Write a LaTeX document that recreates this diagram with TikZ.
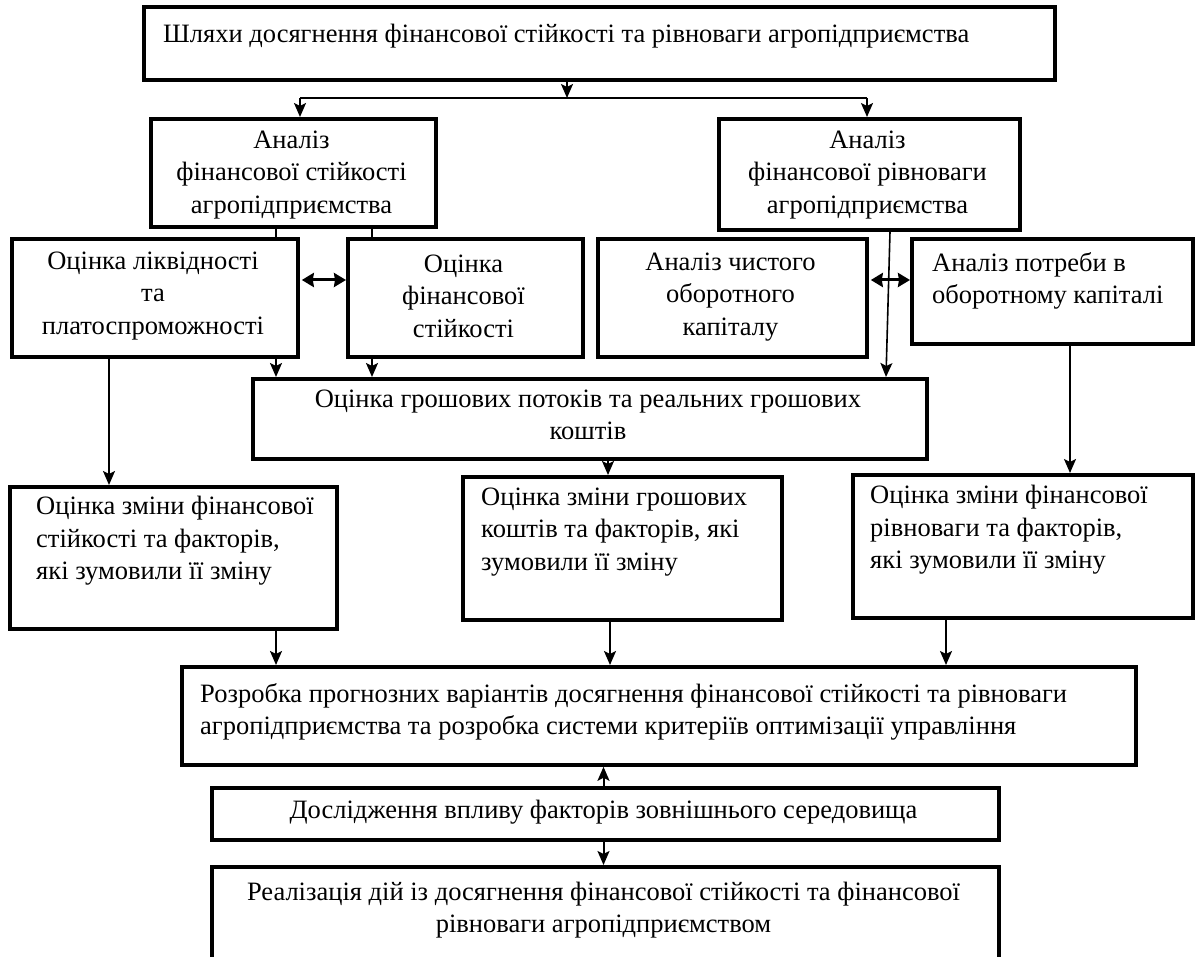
\documentclass[tikz,border=0pt]{standalone}
\usepackage{fontspec}
\setmainfont{Liberation Serif}
\usetikzlibrary{arrows.meta}
\newcommand{\mybox}[5]{\node[box, anchor=north west, minimum width={#4pt-#2pt}, minimum height={#5pt-#3pt}] (#1) at (#2,#3) {};}
\begin{document}
\begin{tikzpicture}[x=1pt,y=-1pt,
  box/.style={draw, line width=3.8pt, inner sep=0pt},
  txt/.style={inner sep=0pt, font=\fontsize{26.5}{32.5}\selectfont},
  arr/.style={line width=2pt, -{Stealth[length=14pt,width=12pt,inset=3pt]}},
  ln/.style={line width=1.4pt},
  lnarr/.style={line width=1.6pt, -{Stealth[length=14pt,width=12pt,inset=3pt]}},
  dbl/.style={line width=3pt, {Stealth[length=12pt,width=14pt,inset=1pt]}-{Stealth[length=12pt,width=14pt,inset=1pt]}}]
\useasboundingbox (0,0) rectangle (1195,957);
\clip (0,0) rectangle (1195,957);
% boxes
\mybox{T}{142}{5}{1053}{78}
\mybox{LA}{149}{117}{434}{225}
\mybox{RA}{717}{117}{1018}{228}
\mybox{A}{10}{237}{296}{355}
\mybox{B}{346}{237}{581}{355}
\mybox{C}{596}{237}{865}{355}
\mybox{D}{910}{237}{1191}{342}
\mybox{CF}{251}{377}{925}{457}
\mybox{E}{8}{485}{335}{627}
\mybox{F}{461}{475}{780}{618}
\mybox{G}{851}{473}{1191}{616}
\mybox{H}{180}{665}{1134}{763}
\mybox{I}{210}{786}{997}{838}
\mybox{J}{210}{865}{997}{990}
% texts
\node[txt, anchor=west] (Tt) at (163,36) {Шляхи досягнення фінансової стійкості та рівноваги агропідприємства};
\node[txt, align=center] (LAt) at (291.5,175) {Аналіз\\фінансової стійкості\\агропідприємства};
\node[txt, align=center] (RAt) at (867.5,175) {Аналіз\\фінансової рівноваги\\агропідприємства};
\node[txt, align=center] (At) at (153,296) {Оцінка ліквідності\\та\\платоспроможності};
\node[txt, align=center] (Bt) at (463.5,296) {Оцінка\\фінансової\\стійкості};
\node[txt, align=center] (Ct) at (730.5,297) {Аналіз чистого\\оборотного\\капіталу};
\node[txt, align=left, anchor=west] (Dt) at (932,281) {Аналіз потреби в\\оборотному капіталі};
\node[txt, align=center] (CFt) at (588,415) {Оцінка грошових потоків та реальних грошових\\коштів};
\node[txt, align=left, anchor=west] (Et) at (36,541) {Оцінка зміни фінансової\\стійкості та факторів,\\які зумовили її зміну};
\node[txt, align=left, anchor=west] (Ft) at (481,532) {Оцінка зміни грошових\\коштів та факторів, які\\зумовили її зміну};
\node[txt, align=left, anchor=west] (Gt) at (870,530) {Оцінка зміни фінансової\\рівноваги та факторів,\\які зумовили її зміну};
\node[txt, align=left, anchor=west] (Ht) at (200,712) {Розробка прогнозних варіантів досягнення фінансової стійкості та рівноваги\\агропідприємства та розробка системи критеріїв оптимізації управління};
\node[txt] (It) at (603.5,812) {Дослідження впливу факторів зовнішнього середовища};
\node[txt, align=center] (Jt) at (603.5,910) {Реалізація дій із досягнення фінансової стійкості та фінансової\\рівноваги агропідприємством};
% guide coordinates
\coordinate (split) at (567,98);
\coordinate (hl) at (300,98);
\coordinate (hr) at (867,98);
\coordinate (xa) at (276,0);
\coordinate (xb) at (372,0);
\coordinate (xe) at (109,0);
\coordinate (xr1) at (890,0);
\coordinate (xr2) at (886,0);
\coordinate (xf) at (608,0);
\coordinate (xg) at (1070,0);
\coordinate (xh1) at (276,0);
\coordinate (xh2) at (610,0);
\coordinate (xh3) at (946,0);
\coordinate (xi) at (603.5,0);
\coordinate (yd) at (0,280);
% connectors
\draw[arr] (T.south -| split) -- (split);
\draw[line width=2pt] (hl) -- (hr);
\draw[arr] (hl) -- (LA.north -| hl);
\draw[arr] (hr) -- (RA.north -| hr);
\draw[ln] (LA.south -| xa) -- (A.north -| xa);
\draw[ln] (LA.south -| xb) -- (B.north -| xb);
\draw[dbl, shorten <=2pt] (A.east |- yd) -- (B.west |- yd);
\draw[dbl, shorten <=2pt] (C.east |- yd) -- (D.west |- yd);
\draw[lnarr] (RA.south -| xr1) -- (CF.north -| xr2);
\draw[arr] (A.south -| xa) -- (CF.north -| xa);
\draw[arr] (B.south -| xb) -- (CF.north -| xb);
\draw[arr] (A.south -| xe) -- (E.north -| xe);
\draw[arr] (CF.south -| xf) -- (F.north -| xf);
\draw[arr] (D.south -| xg) -- (G.north -| xg);
\draw[arr] (E.south -| xh1) -- (H.north -| xh1);
\draw[arr] (F.south -| xh2) -- (H.north -| xh2);
\draw[arr] (G.south -| xh3) -- (H.north -| xh3);
\draw[arr] (I.north -| xi) -- (H.south -| xi);
\draw[arr] (I.south -| xi) -- (J.north -| xi);
\end{tikzpicture}
\end{document}
